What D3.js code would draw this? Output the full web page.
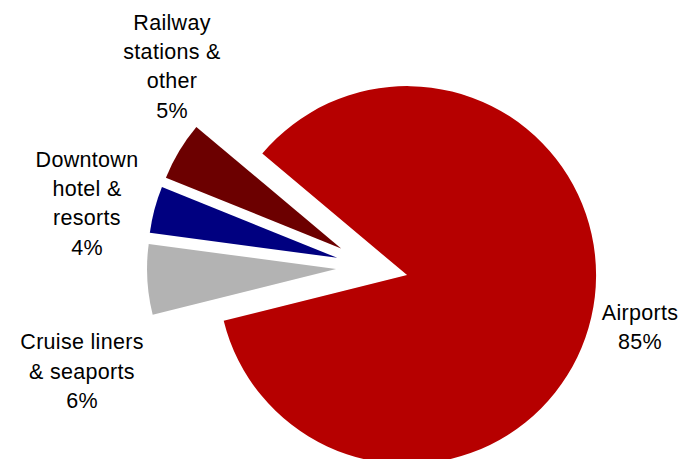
<!DOCTYPE html>
<html>
<head>
<meta charset="utf-8">
<script src="https://cdn.jsdelivr.net/npm/d3@7/dist/d3.min.js"></script>
<style>
  html, body { margin: 0; padding: 0; background: #ffffff; }
  svg { display: block; }
  text { font-family: "Liberation Sans", Arial, sans-serif; fill: #000; }
</style>
</head>
<body>
<svg id="chart" width="688" height="459"></svg>
<script>
// Share of sales by location
const categories = ["Airports", "Cruise liners & seaports", "Downtown hotel & resorts", "Railway stations & other"];
const values = [85, 6, 4, 5];
const labelLines = [
  ["Airports", "85%"],
  ["Cruise liners", "& seaports", "6%"],
  ["Downtown", "hotel &", "resorts", "4%"],
  ["Railway", "stations &", "other", "5%"]
];
const colors = ["#b60000", "#b3b3b3", "#000080", "#6c0000"];

const width = 688, height = 459;
const cx = 372, cy = 267;
const radius = 189;
const explode = 36;
const fontSize = 21.5, lineHeight = 29.3;

// label block centres, relative to the pie centre
const labelOffsets = [[268, 60], [-290, 104], [-285, -64], [-200, -201]];

const svg = d3.select("#chart");
const g = svg.append("g").attr("transform", `translate(${cx},${cy})`);

const startDeg = 310;
const pie = d3.pie()
  .sort(null)
  .value(d => d)
  .startAngle(startDeg * Math.PI / 180)
  .endAngle((startDeg + 360) * Math.PI / 180);

const arc = d3.arc().innerRadius(0).outerRadius(radius);
const arcs = pie(values);

g.selectAll("path.slice")
  .data(arcs)
  .join("path")
  .attr("class", "slice")
  .attr("fill", (d, i) => colors[i])
  .attr("transform", d => {
    const mid = (d.startAngle + d.endAngle) / 2;
    return `translate(${explode * Math.sin(mid)},${-explode * Math.cos(mid)})`;
  })
  .attr("d", arc);

const labels = g.selectAll("text.label")
  .data(arcs)
  .join("text")
  .attr("class", "label")
  .attr("text-anchor", "middle")
  .attr("font-size", fontSize)
  .attr("letter-spacing", 0.3);

labels.each(function(d, i) {
  const lines = labelLines[i];
  const [ox, oy] = labelOffsets[i];
  const y0 = oy - (lines.length - 1) * lineHeight / 2 + 0.36 * fontSize;
  d3.select(this).selectAll("tspan")
    .data(lines)
    .join("tspan")
    .attr("x", ox)
    .attr("y", (t, j) => y0 + j * lineHeight)
    .text(t => t);
});
</script>
</body>
</html>
